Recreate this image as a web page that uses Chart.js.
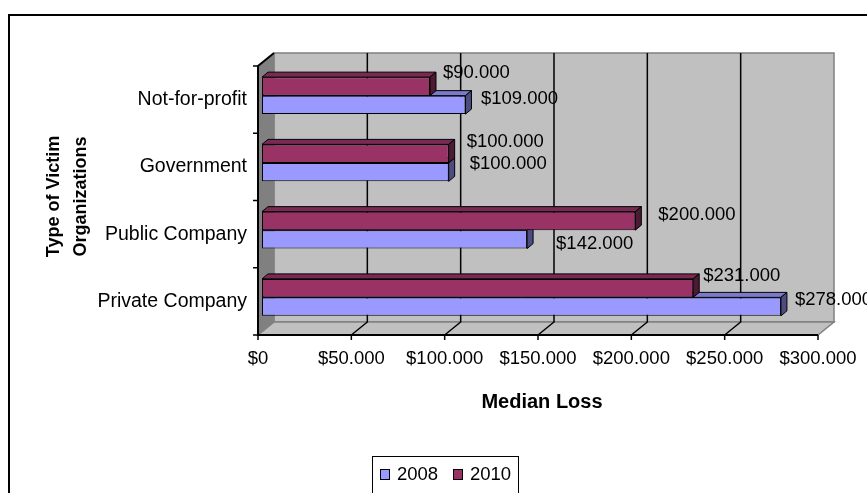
<!DOCTYPE html>
<html>
<head>
<meta charset="utf-8">
<script src="https://cdn.jsdelivr.net/npm/chart.js@4.4.1/dist/chart.umd.min.js"></script>
<style>
  html, body { margin: 0; padding: 0; background: #fff; overflow: hidden; }
  #wrap { width: 867px; height: 493px; position: relative; }
</style>
</head>
<body>
<div id="wrap"><canvas id="chart"></canvas></div>
<script>
const categories = ["Not-for-profit", "Government", "Public Company", "Private Company"];
const values2008 = [109000, 100000, 142000, 278000];
const values2010 = [90000, 100000, 200000, 231000];
const xTicks = [0, 50000, 100000, 150000, 200000, 250000, 300000];

const FONT = "'Liberation Sans', Arial, sans-serif";
const DEPTH = { x: 6, y: -5 };   // bar thickness into the page
const FRONT = { x: -4, y: 4 };   // front plane vs bar plane
const BACK = { x: 12, y: -9 };   // back wall vs bar plane

// hand placed labels in the original, [dx, dy] from bar end
const labelNudge = {
  "2010": [[7, -13], [12, -11.5], [17, -6], [4, -12]],
  "2008": [[9.5, -6], [15, -8], [23, 4.5], [8, -6.5]]
};
const faces = {
  "2008": { top: "#7a7acc", side: "#4c4c80" },
  "2010": { top: "#7a2952", side: "#4d1a33" }
};

function money(v) {
  return "$" + String(v).replace(/\B(?=(\d{3})+(?!\d))/g, ".");
}

function poly(ctx, pts, fill, stroke, lw) {
  ctx.beginPath();
  ctx.moveTo(pts[0][0], pts[0][1]);
  for (let i = 1; i < pts.length; i++) ctx.lineTo(pts[i][0], pts[i][1]);
  ctx.closePath();
  if (fill) { ctx.fillStyle = fill; ctx.fill(); }
  if (stroke) { ctx.strokeStyle = stroke; ctx.lineWidth = lw || 1; ctx.stroke(); }
}

const bar3d = {
  id: "bar3d",
  beforeDatasetsDraw(chart) {
    const { ctx, chartArea: a, scales: { x } } = chart;
    const x0 = x.getPixelForValue(x.min), x1 = x.getPixelForValue(x.max);
    const fL = x0 + FRONT.x, fR = x1 + FRONT.x, fT = a.top + FRONT.y, fB = a.bottom + FRONT.y;
    const bL = x0 + BACK.x, bR = x1 + BACK.x, bT = a.top + BACK.y, bB = a.bottom + BACK.y;
    ctx.save();
    // back wall, floor, side wall
    poly(ctx, [[bL, bT], [bR, bT], [bR, bB], [bL, bB]], "#c0c0c0", "#808080", 1.5);
    poly(ctx, [[fL, fB], [bL, bB], [bR, bB], [fR, fB]], "#c0c0c0", "#808080", 1.5);
    poly(ctx, [[fL, fT], [bL, bT], [bL, bB], [fL, fB]], "#808080", "#808080", 1);
    // gridlines
    ctx.strokeStyle = "#000";
    ctx.lineWidth = 1.5;
    xTicks.forEach(v => {
      if (v === x.min || v === x.max) return;
      const px = x.getPixelForValue(v);
      ctx.beginPath();
      ctx.moveTo(px + BACK.x, bT);
      ctx.lineTo(px + BACK.x, bB);
      ctx.lineTo(px + FRONT.x, fB);
      ctx.stroke();
    });
    // axes
    ctx.lineWidth = 2;
    ctx.beginPath();
    ctx.moveTo(bL, bT); ctx.lineTo(fL, fT); ctx.lineTo(fL, fB); ctx.lineTo(fR, fB);
    ctx.stroke();
    ctx.lineWidth = 1.5;
    xTicks.forEach(v => {
      const px = x.getPixelForValue(v) + FRONT.x;
      ctx.beginPath(); ctx.moveTo(px, fB); ctx.lineTo(px, fB + 5); ctx.stroke();
    });
    const band = (a.bottom - a.top) / categories.length;
    for (let k = 0; k <= categories.length; k++) {
      const py = a.top + k * band + FRONT.y;
      ctx.beginPath(); ctx.moveTo(fL - 5, py); ctx.lineTo(fL, py); ctx.stroke();
    }
    ctx.restore();
  },
  beforeDatasetDraw(chart, args) {
    const { ctx } = chart;
    const ds = chart.data.datasets[args.index];
    const f = faces[ds.label];
    ctx.save();
    args.meta.data.forEach(el => {
      const { x, y, base, height } = el.getProps(["x", "y", "base", "height"], true);
      const t = y - height / 2, b = y + height / 2;
      poly(ctx, [[base, t], [base + DEPTH.x, t + DEPTH.y], [x + DEPTH.x, t + DEPTH.y], [x, t]], f.top, "#000", 1);
      poly(ctx, [[x, t], [x + DEPTH.x, t + DEPTH.y], [x + DEPTH.x, b + DEPTH.y], [x, b]], f.side, "#000", 1);
    });
    ctx.restore();
  },
  afterDraw(chart) {
    const { ctx } = chart;
    ctx.save();
    ctx.font = "18.5px " + FONT;
    ctx.fillStyle = "#000";
    ctx.textBaseline = "middle";
    ctx.textAlign = "left";
    chart.data.datasets.forEach((ds, di) => {
      chart.getDatasetMeta(di).data.forEach((el, i) => {
        const n = labelNudge[ds.label][i];
        ctx.fillText(money(ds.data[i]), el.x + DEPTH.x + n[0], el.y + n[1]);
      });
    });
    // legend
    ctx.lineWidth = 1;
    ctx.strokeStyle = "#000";
    ctx.strokeRect(372.5, 456.5, 146, 60);
    const items = chart.data.datasets.slice().reverse();
    let lx = 380;
    items.forEach(ds => {
      ctx.fillStyle = ds.backgroundColor;
      ctx.fillRect(lx, 469, 9, 10);
      ctx.strokeRect(lx + 0.5, 469.5, 9, 10);
      ctx.fillStyle = "#000";
      ctx.fillText(ds.label, lx + 17, 475);
      lx += 73;
    });
    // outer frame
    ctx.lineWidth = 2;
    ctx.strokeRect(9, 15, 900, 600);
    ctx.restore();
  }
};

Chart.defaults.color = "#000";
Chart.defaults.font.family = FONT;

new Chart(document.getElementById("chart"), {
  type: "bar",
  data: {
    labels: categories,
    // 2010 first so it sits above 2008 in each group, like the original
    datasets: [
      { label: "2010", data: values2010, backgroundColor: "#993366" },
      { label: "2008", data: values2008, backgroundColor: "#9999ff" }
    ]
  },
  options: {
    indexAxis: "y",
    responsive: true,
    maintainAspectRatio: false,
    animation: false,
    layout: { padding: { left: 0, top: 62, right: 45, bottom: 79 } },
    datasets: {
      bar: { categoryPercentage: 0.55, barPercentage: 1, borderWidth: 1, borderColor: "#000", borderSkipped: false }
    },
    scales: {
      x: {
        min: 0,
        max: 300000,
        afterBuildTicks: s => { s.ticks = xTicks.map(v => ({ value: v })); },
        grid: { display: false, drawTicks: false },
        border: { display: false },
        ticks: { padding: 17, labelOffset: -4, maxRotation: 0, autoSkip: false, font: { size: 18.5 }, callback: v => money(v) },
        title: { display: true, text: "Median Loss", font: { size: 20, weight: "bold" }, padding: { top: 0, bottom: 0 } },
        afterFit: s => { s.height = 83; s.paddingLeft = 0; s.paddingRight = 0; }
      },
      y: {
        grid: { display: false, drawTicks: false },
        border: { display: false },
        ticks: { padding: 15, labelOffset: 4, font: { size: 19.5 } },
        title: { display: true, text: ["Type of Victim", "Organizations"], font: { size: 18, weight: "bold", lineHeight: 1.5 }, padding: { top: 41, bottom: 0 } },
        afterFit: s => { s.width = 262; s.paddingTop = 0; s.paddingBottom = 0; }
      }
    },
    plugins: { legend: { display: false }, tooltip: { enabled: false } }
  },
  plugins: [bar3d]
});
</script>
</body>
</html>
